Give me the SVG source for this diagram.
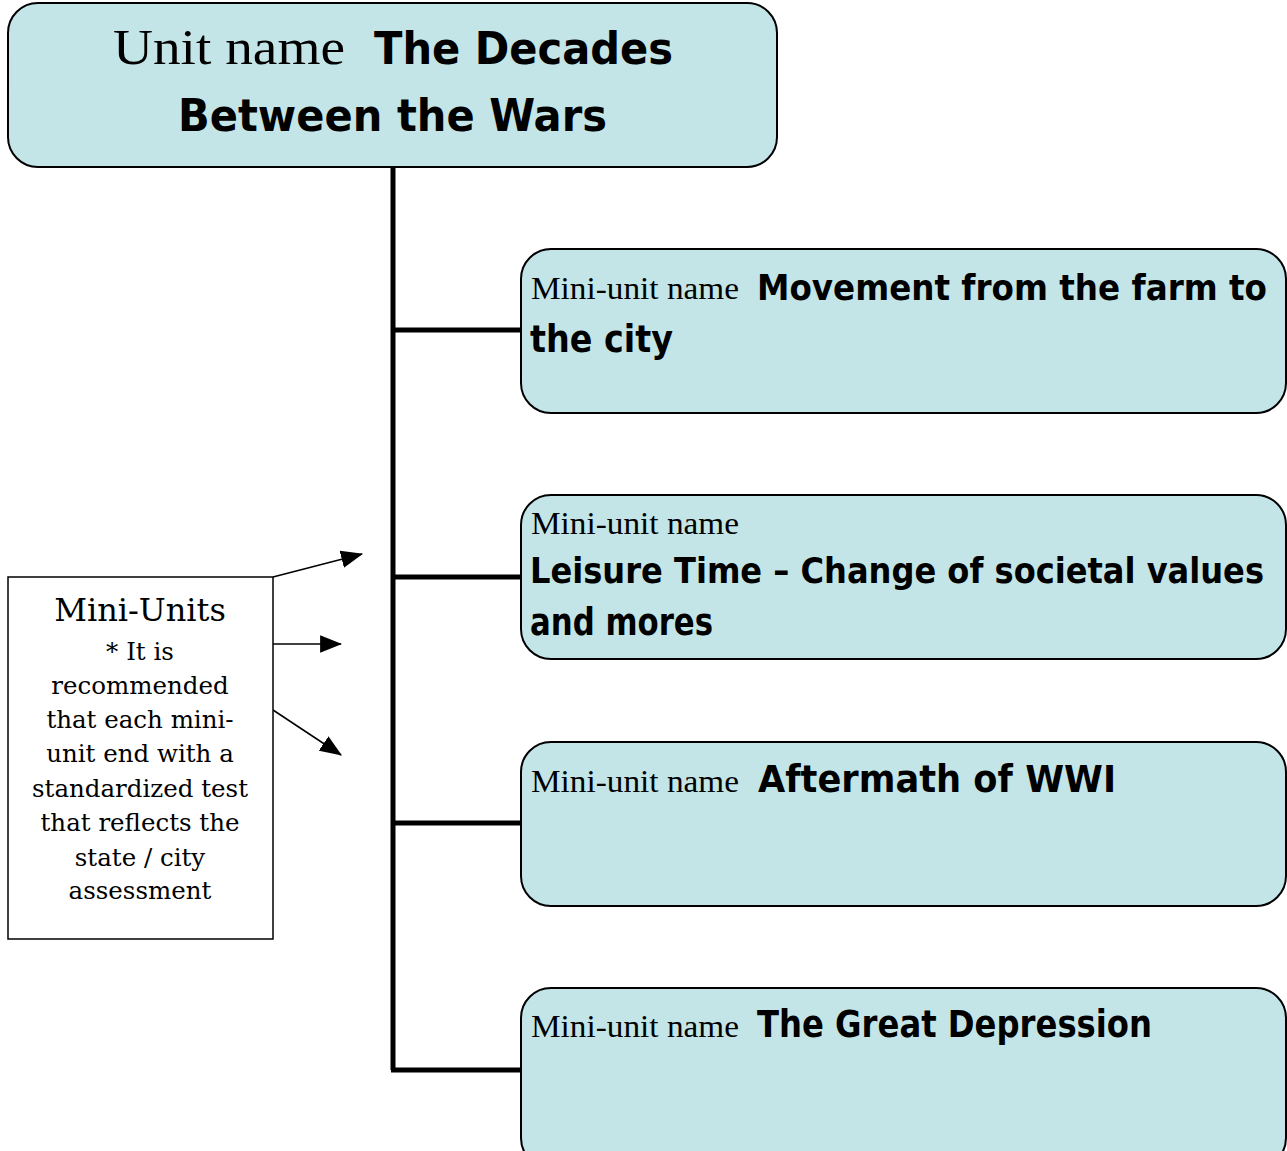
<svg xmlns="http://www.w3.org/2000/svg" width="1287" height="1151" viewBox="0 0 1287 1151">
<style>
.box{fill:#c4e5e8;stroke:#000;stroke-width:2}
.serif{font-family:"Liberation Serif","Times New Roman",serif;fill:#000}
.comic{font-family:"DejaVu Sans","Liberation Sans",sans-serif;font-weight:bold;fill:#000}
.cond{font-family:"DejaVu Sans Condensed","DejaVu Sans","Liberation Sans Narrow",sans-serif}
.note{font-family:"DejaVu Serif","Liberation Serif",serif;fill:#000;text-anchor:middle}
.spine{stroke:#000;stroke-width:5;fill:none}
.arr{stroke:#000;stroke-width:1.5;fill:none;marker-end:url(#ah)}
</style>
<defs>
<marker id="ah" viewBox="0 0 10 8" refX="9.5" refY="4" markerWidth="22" markerHeight="17.6" markerUnits="userSpaceOnUse" orient="auto">
<path d="M0,0 L10,4 L0,8 z" fill="#000"/>
</marker>
</defs>
<rect width="1287" height="1151" fill="#fff"/>
<g id="connectors">
<path class="spine" d="M393,166 V1070"/>
<path class="spine" d="M391,330 H522"/>
<path class="spine" d="M391,577 H522"/>
<path class="spine" d="M391,823 H522"/>
<path class="spine" d="M391,1070 H522"/>
<line class="arr" x1="273" y1="577" x2="362" y2="554"/>
<line class="arr" x1="273" y1="644" x2="341" y2="644"/>
<line class="arr" x1="273" y1="710" x2="341" y2="755"/>
</g>
<g id="unit">
<rect class="box" x="8" y="3" width="769" height="164" rx="30"/>
<text class="serif" x="113" y="64" font-size="50" textLength="232" lengthAdjust="spacingAndGlyphs">Unit name</text>
<text class="comic" x="374" y="64" font-size="45" textLength="299" lengthAdjust="spacingAndGlyphs">The Decades</text>
<text class="comic" x="178" y="131" font-size="45" textLength="429" lengthAdjust="spacingAndGlyphs">Between the Wars</text>
</g>
<g id="mini1">
<rect class="box" x="521" y="249" width="765" height="164" rx="30"/>
<text class="serif" x="531" y="299" font-size="31" textLength="208" lengthAdjust="spacingAndGlyphs">Mini-unit name</text>
<text class="comic cond" x="757" y="300" font-size="36" textLength="510" lengthAdjust="spacingAndGlyphs">Movement from the farm to</text>
<text class="comic" x="530" y="352" font-size="37" textLength="143" lengthAdjust="spacingAndGlyphs">the city</text>
</g>
<g id="mini2">
<rect class="box" x="521" y="495" width="765" height="164" rx="30"/>
<text class="serif" x="531" y="534" font-size="31" textLength="208" lengthAdjust="spacingAndGlyphs">Mini-unit name</text>
<text class="comic cond" x="530" y="583" font-size="36" textLength="734" lengthAdjust="spacingAndGlyphs">Leisure Time – Change of societal values</text>
<text class="comic" x="530" y="635" font-size="37" textLength="183" lengthAdjust="spacingAndGlyphs">and mores</text>
</g>
<g id="mini3">
<rect class="box" x="521" y="742" width="765" height="164" rx="30"/>
<text class="serif" x="531" y="792" font-size="31" textLength="208" lengthAdjust="spacingAndGlyphs">Mini-unit name</text>
<text class="comic" x="758" y="792" font-size="37" textLength="358" lengthAdjust="spacingAndGlyphs">Aftermath of WWI</text>
</g>
<g id="mini4">
<rect class="box" x="521" y="988" width="765" height="180" rx="30"/>
<text class="serif" x="531" y="1037" font-size="31" textLength="208" lengthAdjust="spacingAndGlyphs">Mini-unit name</text>
<text class="comic" x="757" y="1037" font-size="37" textLength="395" lengthAdjust="spacingAndGlyphs">The Great Depression</text>
</g>
<g id="note">
<rect x="8" y="577" width="265" height="362" fill="#fff" stroke="#000" stroke-width="1.5"/>
<text class="note" x="140" y="621" font-size="32">Mini-Units</text>
<text class="note" x="140" y="660" font-size="24.5">* It is</text>
<text class="note" x="140" y="694" font-size="24.5">recommended</text>
<text class="note" x="140" y="728" font-size="24.5">that each mini-</text>
<text class="note" x="140" y="762" font-size="24.5">unit end with a</text>
<text class="note" x="140" y="797" font-size="24.5">standardized test</text>
<text class="note" x="140" y="831" font-size="24.5">that reflects the</text>
<text class="note" x="140" y="866" font-size="24.5">state / city</text>
<text class="note" x="140" y="899" font-size="24.5">assessment</text>
</g>
</svg>
